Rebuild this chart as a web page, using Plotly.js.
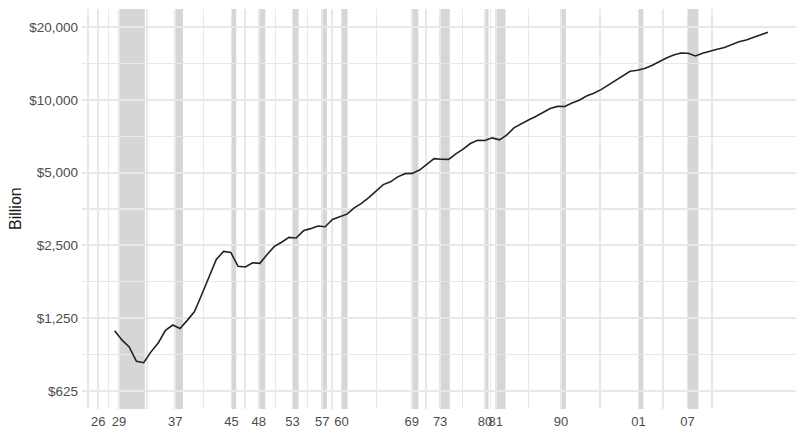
<!DOCTYPE html>
<html><head><meta charset="utf-8">
<script src="https://cdn.plot.ly/plotly-3.0.1.min.js"></script>
<style>html,body{margin:0;padding:0;background:#fff}#chart{width:796px;height:428px}</style>
</head><body><div id="chart"></div>
<script>
// Real GDP, billions of chained dollars, annual
const years = [1929,1930,1931,1932,1933,1934,1935,1936,1937,1938,1939,1940,1941,1942,1943,1944,1945,1946,1947,1948,1949,1950,1951,1952,1953,1954,1955,1956,1957,1958,1959,1960,1961,1962,1963,1964,1965,1966,1967,1968,1969,1970,1971,1972,1973,1974,1975,1976,1977,1978,1979,1980,1981,1982,1983,1984,1985,1986,1987,1988,1989,1990,1991,1992,1993,1994,1995,1996,1997,1998,1999,2000,2001,2002,2003,2004,2005,2006,2007,2008,2009,2010,2011,2012,2013,2014,2015,2016,2017,2018,2019];
const gdp = [1109,1015,950,828,817,906,986,1113,1170,1132,1223,1330,1566,1863,2184,2361,2336,2048,2035,2119,2107,2290,2476,2576,2697,2682,2872,2932,3007,2986,3202,3282,3366,3572,3731,3942,4189,4462,4579,4804,4952,4964,5126,5397,5711,5682,5671,5978,6251,6599,6809,6791,6965,6832,7145,7662,7979,8252,8534,8892,9219,9401,9391,9708,9973,10380,10653,11026,11514,12032,12604,13131,13262,13493,13879,14406,14913,15338,15626,15605,15209,15599,15841,16197,16495,16912,17404,17689,18108,18638,19073];

// NBER recessions shaded (start, end)
const recessionStart = ["1929-08-01","1937-05-01","1945-02-01","1948-11-01","1953-07-01","1957-08-01","1960-04-01","1969-12-01","1973-11-01","1980-01-01","1981-07-01","1990-07-01","2001-03-01","2007-12-01"];
const recessionEnd   = ["1933-03-01","1938-06-01","1945-10-01","1949-10-01","1954-05-01","1958-04-01","1961-02-01","1970-11-01","1975-03-01","1980-07-01","1982-11-01","1991-03-01","2001-11-01","2009-06-01"];

// x-axis breaks (recession starts) and labels
const tickDates  = ["1926-10-01","1929-08-01","1937-05-01","1945-02-01","1948-11-01","1953-07-01","1957-08-01","1960-04-01","1969-12-01","1973-11-01","1980-01-01","1981-07-01","1990-07-01","2001-03-01","2007-12-01"];
const tickLabels = ["26","29","37","45","48","53","57","60","69","73","80","81","90","01","07"];

// y-axis breaks
const yTicks  = [625,1250,2500,5000,10000,20000];
const yLabels = ["$625","$1,250","$2,500","$5,000","$10,000","$20,000"];

function fmt(ms){ return new Date(ms).toISOString().slice(0,19).replace('T',' '); }
// minor breaks: midpoints between breaks, extended one step at each end
const tms = tickDates.map(d => Date.parse(d));
const ext = [2*tms[0]-tms[1]].concat(tms, [2*tms[tms.length-1]-tms[tms.length-2]]);
const minorX = [];
for (let i=0;i<ext.length-1;i++) minorX.push(fmt((ext[i]+ext[i+1])/2));
const minorY = [];
for (let i=0;i<yTicks.length-1;i++) minorY.push(Math.sqrt(yTicks[i]*yTicks[i+1]));

const xDates = years.map(y => y + "-01-01");

const shapes = recessionStart.map((s,i) => ({
  type:'rect', xref:'x', yref:'paper', x0:s, x1:recessionEnd[i], y0:0, y1:1,
  fillcolor:'rgba(128,128,128,0.32)', line:{width:0}, layer:'between'
}));

const grid = '#e8e8e8';
const layout = {
  width:796, height:428,
  margin:{l:82, r:0, t:9, b:19, pad:0},
  paper_bgcolor:'#fff', plot_bgcolor:'#fff',
  font:{family:'"Liberation Sans", Arial, Helvetica, sans-serif', color:'#4d4d4d'},
  showlegend:false,
  xaxis:{
    type:'date', range:['1924-07-02','2022-11-10'],
    tickmode:'array', tickvals:tickDates, ticktext:tickLabels, tickangle:0,
    showgrid:true, gridcolor:grid, gridwidth:1.8,
    minor:{tickmode:'array', tickvals:minorX, showgrid:true, gridcolor:grid, gridwidth:1.5, ticks:''},
    zeroline:false, showline:false, ticks:'', ticklabelstandoff:3,
    tickfont:{size:13, color:'#4d4d4d'}, fixedrange:true, automargin:false
  },
  yaxis:{
    type:'log', range:[2.7206, 4.3763],
    tickmode:'array', tickvals:yTicks, ticktext:yLabels,
    showgrid:true, gridcolor:grid, gridwidth:1.8,
    minor:{tickmode:'array', tickvals:minorY, showgrid:true, gridcolor:grid, gridwidth:1.5, ticks:''},
    zeroline:false, showline:false, ticks:'', ticklabelstandoff:3,
    tickfont:{size:13.5, color:'#4d4d4d'}, fixedrange:true, automargin:false
  },
  shapes:shapes,
  annotations:[{
    text:'Billion', textangle:-90, xref:'paper', yref:'paper', x:0, y:0.5,
    xanchor:'center', yanchor:'middle', xshift:-67, showarrow:false,
    font:{size:16, color:'#1a1a1a'}
  }]
};

const data = [{
  type:'scatter', mode:'lines', x:xDates, y:gdp,
  line:{color:'#222222', width:1.6}, hoverinfo:'skip'
}];

Plotly.newPlot('chart', data, layout, {displayModeBar:false, staticPlot:true});
</script>
</body></html>
